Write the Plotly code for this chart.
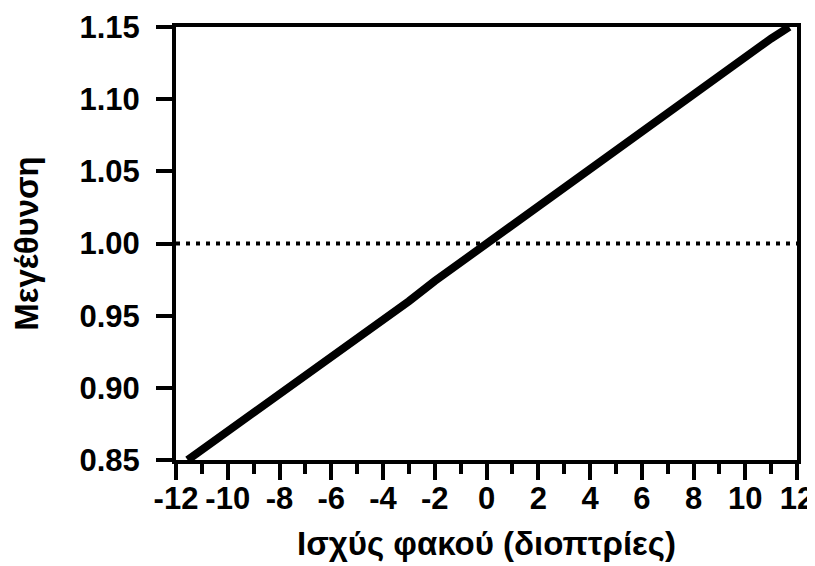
import plotly.graph_objects as go

# Data
power_d = [-11.55, -11, -10, -9, -8, -7, -6, -5, -4, -3, -2, -1, 0,
           1, 2, 3, 4, 5, 6, 7, 8, 9, 10, 11, 11.7]
magnification = [0.850, 0.857, 0.870, 0.883, 0.895, 0.908, 0.921, 0.934, 0.947,
                 0.960, 0.974, 0.987, 1.000, 1.013, 1.026, 1.039, 1.052, 1.065,
                 1.078, 1.091, 1.104, 1.117, 1.130, 1.142, 1.150]
ref_x = [-12, 12]
ref_y = [1.0, 1.0]

x_tickvals = [-12, -10, -8, -6, -4, -2, 0, 2, 4, 6, 8, 10, 12]
x_ticktext = ["-12", "-10", "-8", "-6", "-4", "-2", "0", "2", "4", "6", "8", "10", "12"]
y_tickvals = [0.85, 0.90, 0.95, 1.00, 1.05, 1.10, 1.15]
y_ticktext = ["0.85", "0.90", "0.95", "1.00", "1.05", "1.10", "1.15"]

FONT = "Liberation Sans, Arial, Helvetica, sans-serif"
FS = 31
TFS = 33

fig = go.Figure()
fig.add_trace(go.Scatter(x=ref_x, y=ref_y, mode="lines",
                         line=dict(color="black", width=4, dash="4px,6px"),
                         hoverinfo="skip", showlegend=False))
fig.add_trace(go.Scatter(x=power_d, y=magnification, mode="lines",
                         line=dict(color="black", width=8),
                         showlegend=False))

fig.update_layout(
    width=815, height=566,
    margin=dict(l=168, r=26, t=19, b=114),
    paper_bgcolor="white", plot_bgcolor="white",
    font=dict(family=FONT, size=FS, color="black", weight="bold"),
    xaxis=dict(
        range=[-12, 12], tickvals=x_tickvals, ticktext=x_ticktext,
        automargin=False, ticklabelstandoff=-8,
        showline=True, linewidth=4, linecolor="black", mirror=True,
        ticks="outside", ticklen=16, tickwidth=4, tickcolor="black",
        showgrid=False, zeroline=False,
        minor=dict(dtick=1, tick0=-12, ticks="outside", ticklen=10,
                   tickwidth=4, tickcolor="black", showgrid=False),
        tickfont=dict(family=FONT, size=FS, weight="bold"),
        title=dict(text="Ισχύς φακού (διοπτρίες)", standoff=18,
                   font=dict(family=FONT, size=TFS, weight="bold")),
    ),
    yaxis=dict(
        range=[0.85, 1.15], tickvals=y_tickvals, ticktext=y_ticktext,
        automargin=False, ticklabelstandoff=10,
        showline=True, linewidth=4, linecolor="black", mirror=True,
        ticks="outside", ticklen=16, tickwidth=4, tickcolor="black",
        showgrid=False, zeroline=False,
        tickfont=dict(family=FONT, size=FS, weight="bold"),
        title=dict(text="Μεγέθυνση", standoff=35,
                   font=dict(family=FONT, size=TFS, weight="bold")),
    ),
)

fig.write_html("out.html")
